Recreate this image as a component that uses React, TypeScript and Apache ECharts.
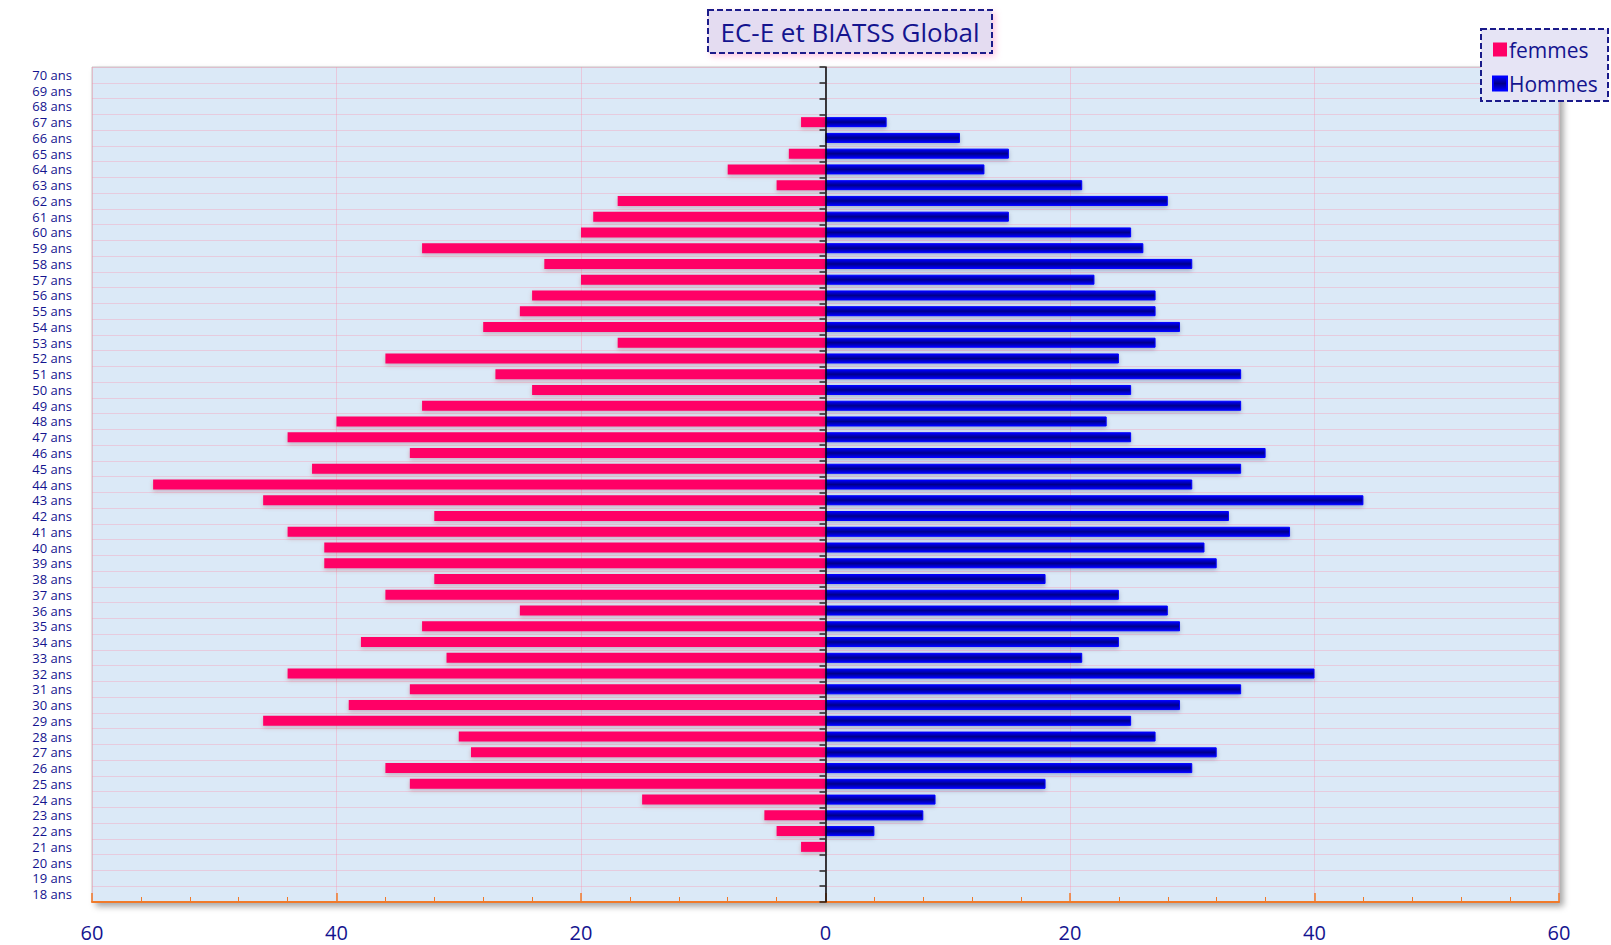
import React, { useEffect, useRef } from "react";
import * as echarts from "echarts";

const ages: string[] = [
  "18 ans","19 ans","20 ans","21 ans","22 ans","23 ans","24 ans","25 ans","26 ans","27 ans",
  "28 ans","29 ans","30 ans","31 ans","32 ans","33 ans","34 ans","35 ans","36 ans","37 ans",
  "38 ans","39 ans","40 ans","41 ans","42 ans","43 ans","44 ans","45 ans","46 ans","47 ans",
  "48 ans","49 ans","50 ans","51 ans","52 ans","53 ans","54 ans","55 ans","56 ans","57 ans",
  "58 ans","59 ans","60 ans","61 ans","62 ans","63 ans","64 ans","65 ans","66 ans","67 ans",
  "68 ans","69 ans","70 ans",
];

// counts, listed from 18 ans to 70 ans
const femmes: number[] = [
  0, 0, 0, 2, 4, 5, 15, 34, 36, 29,
  30, 46, 39, 34, 44, 31, 38, 33, 25, 36,
  32, 41, 41, 44, 32, 46, 55, 42, 34, 44,
  40, 33, 24, 27, 36, 17, 28, 25, 24, 20,
  23, 33, 20, 19, 17, 4, 8, 3, 0, 2,
  0, 0, 0,
];

const hommes: number[] = [
  0, 0, 0, 0, 4, 8, 9, 18, 30, 32,
  27, 25, 29, 34, 40, 21, 24, 29, 28, 24,
  18, 32, 31, 38, 33, 44, 30, 34, 36, 25,
  23, 34, 25, 34, 24, 27, 29, 27, 27, 22,
  30, 26, 25, 15, 28, 21, 13, 15, 11, 5,
  0, 0, 0,
];

const xTicks = { min: -60, max: 60, interval: 20 };
const titleText = "EC-E et BIATSS Global";

const FONT = "'Open Sans', 'Noto Sans', sans-serif";
const TEXT_COLOR = "#14148f";

const W = 1611;
const H = 945;
const GRID_LEFT = 92;
const GRID_RIGHT = 52;

export default function App() {
  const ref = useRef<HTMLDivElement>(null);

  useEffect(() => {
    if (!ref.current) return;
    const chart = echarts.init(ref.current, null, { renderer: "svg" });

    const gridWidth = W - GRID_LEFT - GRID_RIGHT;
    const zeroOffset = -gridWidth / 2;

    const option: any = {
      animation: false,
      textStyle: { fontFamily: FONT },
      grid: {
        left: GRID_LEFT,
        right: GRID_RIGHT,
        top: 67,
        bottom: 43,
        show: true,
        backgroundColor: "#dbe9f7",
        borderColor: "#c4c4c4",
        borderWidth: 1,
        shadowColor: "rgba(0,0,0,0.35)",
        shadowBlur: 6,
        shadowOffsetX: 4,
        shadowOffsetY: 4,
      },
      graphic: [
        {
          type: "rect",
          shape: { x: 708, y: 10, width: 284, height: 43 },
          style: {
            fill: "#e4dcf1",
            stroke: "#1a1a8a",
            lineWidth: 2,
            lineDash: [6, 3],
            shadowColor: "rgba(255,140,200,0.45)",
            shadowBlur: 6,
            shadowOffsetX: 3,
            shadowOffsetY: 3,
          },
          z: 1,
        },
        {
          type: "text",
          x: 850,
          y: 32,
          style: {
            text: titleText,
            fill: TEXT_COLOR,
            font: `26px ${FONT}`,
            textAlign: "center",
            textVerticalAlign: "middle",
          },
          z: 2,
        },
        {
          type: "rect",
          shape: { x: 1481, y: 29, width: 127, height: 72 },
          style: {
            fill: "#e6e4f5",
            stroke: "#1a1a8a",
            lineWidth: 2,
            lineDash: [6, 3],
          },
          z: 5,
        },
      ],
      legend: {
        orient: "vertical",
        left: 1487,
        top: 34,
        itemWidth: 14,
        itemHeight: 14,
        itemGap: 13,
        icon: "rect",
        z: 10,
        textStyle: { fontSize: 21, color: TEXT_COLOR, fontFamily: FONT, padding: [0, 0, 0, -3] },
        data: ["femmes", "Hommes"],
      },
      xAxis: {
        type: "value",
        min: xTicks.min,
        max: xTicks.max,
        interval: xTicks.interval,
        axisLine: { show: true, onZero: false, lineStyle: { color: "#f07a2a", width: 2 } },
        axisTick: { show: true, inside: true, length: 9, lineStyle: { color: "#f07a2a", width: 1.5 } },
        minorTick: { show: true, splitNumber: 5, length: 5, lineStyle: { color: "#f07a2a", width: 1 } },
        axisLabel: {
          formatter: (v: number) => String(Math.abs(v)),
          color: TEXT_COLOR,
          fontSize: 20,
          margin: 20,
          fontFamily: FONT,
        },
        splitLine: { show: true, lineStyle: { color: "rgba(255,140,170,0.35)", width: 1 } },
      },
      yAxis: [
        {
          type: "category",
          data: ages,
          position: "left",
          axisLine: { show: false },
          axisTick: { show: false },
          axisLabel: {
            color: TEXT_COLOR,
            fontSize: 13,
            lineHeight: 13,
            margin: 20,
            interval: 0,
            fontFamily: FONT,
          },
          splitLine: { show: true, interval: 0, lineStyle: { color: "rgba(255,140,170,0.32)", width: 1 } },
        },
        {
          type: "category",
          data: ages,
          position: "left",
          offset: zeroOffset,
          axisLine: { show: true, onZero: false, lineStyle: { color: "#000", width: 1.5 } },
          axisTick: { show: true, interval: 0, length: 6, lineStyle: { color: "#222", width: 1.5 } },
          axisLabel: { show: false },
          splitLine: { show: false },
          z: 5,
        },
      ],
      series: [
        {
          name: "femmes",
          type: "bar",
          yAxisIndex: 0,
          barWidth: 10,
          barGap: "-100%",
          data: femmes.map((v) => -v),
          itemStyle: {
            color: "#ff0066",
            shadowColor: "rgba(150,0,40,0.25)",
            shadowBlur: 4,
            shadowOffsetY: 2,
          },
        },
        {
          name: "Hommes",
          type: "bar",
          yAxisIndex: 0,
          barWidth: 10,
          barGap: "-100%",
          data: hommes,
          itemStyle: {
            color: new echarts.graphic.LinearGradient(0, 0, 0, 1, [
              { offset: 0, color: "#0000ff" },
              { offset: 0.5, color: "#00008b" },
              { offset: 1, color: "#0000ff" },
            ]),
            borderColor: "#0000ff",
            borderWidth: 1,
            shadowColor: "rgba(0,0,60,0.25)",
            shadowBlur: 4,
            shadowOffsetY: 2,
          },
        },
      ],
    };

    chart.setOption(option);
    return () => chart.dispose();
  }, []);

  return (
    <div
      ref={ref}
      style={{ position: "absolute", left: 0, top: 0, width: W, height: H, background: "#fff" }}
    />
  );
}
